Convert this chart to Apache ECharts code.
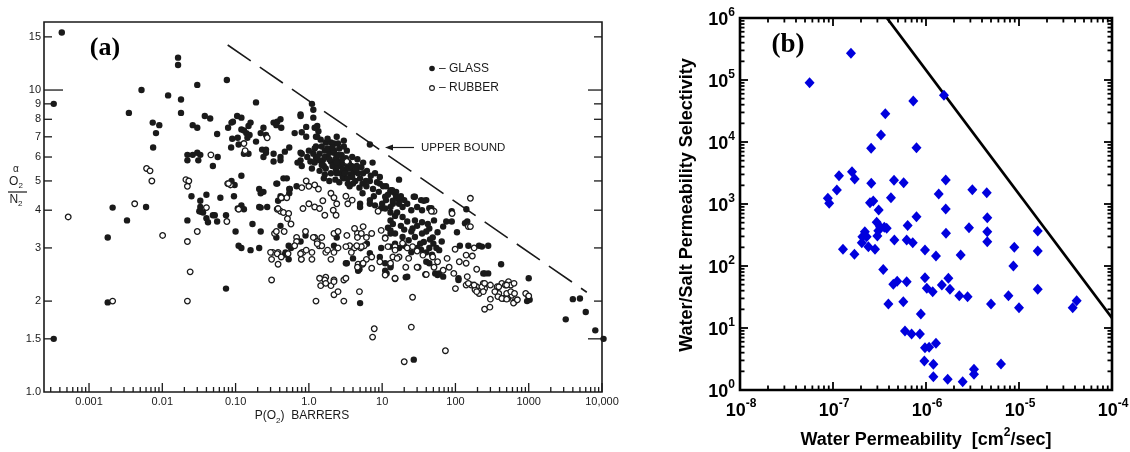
<!DOCTYPE html>
<html><head><meta charset="utf-8">
<script src="https://cdn.jsdelivr.net/npm/echarts@6/dist/echarts.min.js"></script>
<style>html,body{margin:0;padding:0;background:#fff}#c{width:1130px;height:452px}</style>
</head><body><div id="c"></div>
<script>
// ===== Panel (a): O2/N2 selectivity vs P(O2) [barrers] =====
const glass = [
[0.000425,15.5],[0.00033,9.0],[0.00033,1.5],[0.0018,3.25],[0.0018,1.98],[0.0021,4.08],[0.0033,3.7],[0.0035,8.4],[0.0052,10],[0.006,4.1],
[0.0074,7.8],[0.0091,7.65],[0.0082,7.2],[0.0075,6.45],[0.012,9.6],[0.0164,12.8],[0.0164,12.1],[0.018,9.3],[0.018,8.4],[0.030,10.4],
[0.076,10.8],[0.19,9.1],[0.038,8.2],[0.045,8.05],[0.026,7.65],[0.030,7.5],[0.056,7.15],[0.079,7.5],[0.088,7.8],[0.105,8.2],
[0.12,8.1],[0.087,6.45],[0.09,6.9],[0.107,6.95],[0.11,6.6],[0.12,7.4],[0.14,7.2],[0.15,7.6],[0.155,7.1],[0.145,6.95],
[0.19,6.75],[0.22,7.2],[0.26,7.1],[0.24,7.5],[0.33,7.8],[0.37,7.85],[0.41,8.0],[0.42,7.5],[0.23,6.35],[0.26,6.2],
[0.022,6.1],[0.026,6.1],[0.030,6.2],[0.033,6.1],[0.031,5.85],[0.022,5.85],[0.057,6.0],[0.049,5.6],[0.12,5.2],[0.088,5.0],
[0.097,4.85],[0.025,4.45],[0.033,4.3],[0.040,4.5],[0.062,4.4],[0.095,4.45],[0.21,4.7],[0.24,4.6],[0.22,4.55],[0.36,4.9],
[0.45,5.1],[0.50,5.1],[0.54,4.7],[0.032,3.97],[0.036,3.93],[0.049,3.85],[0.074,3.85],[0.12,4.15],[0.22,4.08],[0.27,4.1],
[0.022,3.7],[0.034,3.95],[0.040,3.76],[0.056,3.67],[0.107,4.05],[0.13,4.03],[0.13,6.15],[0.15,6.15],[0.074,2.2],[0.1,3.4],
[0.11,3.05],[0.17,3.6],[0.22,3.4],[0.21,3.0],[0.41,3.55],[0.47,2.85],[0.53,3.05],[0.57,3.0],[0.80,2.9],[0.79,2.75],
[0.12,3.0],[0.16,2.95],[0.36,3.25],[0.48,2.9],[0.53,2.75],[0.77,3.15],[0.9,3.3],[1.4,3.05],[2.2,3.05],[2.4,3.25],
[3.2,2.67],[4.0,2.77],[4.7,2.52],[6.2,3.1],[6.8,2.88],[9.7,3.0],[9.3,2.8],[11,2.52],[3.3,2.67],[4.9,2.55],
[11.5,2.47],[13,2.63],[21,2.4],[53,2.47],[110,2.35],[150,3.05],[210,3.05],[280,3.05],[420,2.65],[240,2.47],
[280,2.47],[1000,2.38],[5.0,1.97],[27,1.28],[4000,2.03],[5000,2.04],[6000,1.84],[3200,1.74],[8100,1.6],[10500,1.5],
[990,2.07],[1030,2.02],[950,2.0],
[1.1,9.0],[1.15,8.6],[1.15,8.1],[0.77,8.3],[6.8,6.6],[7.4,5.75],[0.64,7.2],[0.8,7.25],[0.92,7.0],[1.3,7.6],
[1.35,7.3],[1.25,7.0],[1.45,6.85],[1.7,6.7],[2.0,6.7],[2.2,6.65],[1.65,6.3],[1.4,6.15],[1.25,5.95],[1.2,5.75],
[1.55,5.85],[1.8,6.0],[2.0,5.8],[2.15,5.6],[2.35,5.45],[2.7,5.3],[2.9,5.15],[2.7,5.6],[3.2,5.45],[3.7,5.25],
[4.1,5.35],[4.3,5.0],[5.0,5.1],[1.7,5.5],[2.0,5.3],[1.4,5.4],[1.65,5.25],[1.05,5.8],[0.95,6.0],[0.8,6.15],
[0.77,5.85],[0.7,5.75],[0.8,5.6],[2.2,6.2],[3.2,5.95],[3.5,5.75],[0.36,7.65],[0.16,7.8],[0.13,7.35],[0.092,7.85],
[0.54,6.45],[0.47,6.25],[0.41,6.0],[0.33,6.15],[0.26,6.35],[0.24,6.0],[0.33,5.8],[0.41,5.85],[0.77,6.2],[0.37,4.9],
[0.68,4.8],[0.55,4.7],[0.41,4.45],[0.38,4.3],[0.54,4.55],[0.21,4.1],[0.052,3.85],[0.042,3.65],[0.033,4.1],[5.4,4.9],
[6.8,5.0],[9.3,4.9],[11.3,4.8],[13,4.66],[15,4.55],[5.4,4.55],[7.7,4.45],[11.3,4.32],[14,4.2],[9.7,4.06],
[13,3.93],[15,3.83],[6.8,4.2],[5.0,4.2],[13,3.35],[11,3.25],[15,3.1],[13,3.03],[0.77,8.2],[0.92,7.55],
[1.2,7.5],[1.3,7.0],[1.25,6.5],[1.15,6.15],[1.4,5.85],[1.65,6.0],[1.9,6.2],[2.2,6.3],[2.5,6.65],[2.1,5.6],
[2.5,5.6],[2.9,5.45],[3.4,5.55],[3.9,5.15],[4.7,5.3],[3.4,4.9],[4.9,4.75],[6.1,4.8],[9.3,5.15],[10.3,4.8],
[13,4.6],[15.5,4.43],[20,4.32],[28,4.43],[40,4.32],[47,4.06],[19,4.1],[13,4.1],[10,4.2],[6.8,4.32],
[5.0,4.1],[17,5.05],[13.7,4.66],[15.5,4.6],[17,4.32],[27,4.43],[34,4.32],[37,4.3],[44,4.06],[89,3.97],
[141,4.03],[135,3.62],[105,3.38],[89,3.67],[75,3.67],[68,3.53],[51,3.7],[44,3.48],[57,3.38],[49,3.25],
[115,3.05],[230,3.03],[250,2.47],[110,2.38],[57,2.44],[60,2.47],[68,2.41],[22,2.41],[13,3.43],[15,3.35],
[19,3.26],[23,3.18],[28,3.26],[33,3.1],[37,3.14],[44,3.0],[34,2.96],[40,2.7],[44,2.67],[11,2.67],
[13,2.59],[11,4.43],[14,4.3],[17,4.2],[16,3.93],[13,3.7],[19,3.8],[22,3.67],[26,3.48],[145,3.67],
[12,3.5],[14,3.6],[18,3.55],[20,3.45],[25,3.4],[30,3.55],[35,3.35],[40,3.4],[45,3.2],[50,3.1],
[55,3.0],[30,3.0],[25,2.9],[20,3.05],[17,3.0],[40,2.9],[48,2.85],[60,2.95],[65,3.15],[35,3.65],
[42,3.6],[28,3.7],[1.5,6.5],[1.8,6.4],[2.4,6.0],[2.6,5.8],[3.0,5.7],[1.9,5.9],[2.3,5.9],[2.8,6.1],
[1.6,5.6],[2.4,5.3],[3.0,5.1],[3.6,5.5],[4.5,5.6],[5.5,5.3],[6.0,5.0],[1.2,6.4],[1.0,6.3],[2.6,6.4],
[3.1,5.3],[4.0,4.9],
[1.6,5.1],[1.9,5.0],[2.3,5.05],[2.6,4.95],[3.4,5.1],[3.8,5.6],[4.4,5.45],[5.2,5.55],[6.2,5.4],[7.0,5.2],
[8.0,5.3],[8.5,4.95],[2.9,5.9],[3.3,6.3],[3.9,6.0],[4.6,5.9],[5.5,5.75],[2.1,6.45],[1.3,6.0],[1.1,5.5],
[1.5,5.65],[2.4,5.75],[3.6,4.8],[7.5,4.7],[9.0,4.6],[12,4.5],[18,4.45],[22,4.2],[25,4.0],[30,4.1],
[35,4.0],[11,4.05],[8.0,4.15],[2.5,6.1],[3.0,6.5],[1.8,6.9],[2.4,7.0],[3.0,6.8]
];
const rubber = [
[0.00052,3.8],[0.0021,2.0],[0.0042,4.2],[0.0061,5.5],[0.0068,5.4],[0.0072,5.0],[0.0101,3.3],[0.022,3.15],[0.024,2.5],[0.022,2.0],
[0.030,3.4],[0.046,6.1],[0.13,6.65],[0.135,6.3],[0.27,6.95],[0.021,5.05],[0.023,5.0],[0.022,4.8],[0.078,4.9],[0.085,4.85],
[0.04,4.08],[0.11,4.03],[0.076,3.67],[0.43,4.4],[0.5,4.4],[0.37,4.03],[0.41,3.97],[0.45,3.93],[0.31,2.35],[0.34,3.35],
[0.38,2.9],[0.32,2.9],[0.38,2.65],[0.46,3.4],[0.57,3.6],[0.68,3.25],[0.68,3.15],[0.79,2.75],[0.83,2.9],[0.9,3.4],
[1.1,2.9],[1.2,3.25],[1.38,3.05],[1.5,3.05],[1.5,3.25],[1.7,2.9],[1.25,2.0],[1.45,2.25],[1.7,2.4],[1.15,3.25],
[1.3,3.15],[2.0,2.75],[2.2,2.9],[2.5,3.0],[2.2,3.35],[2.5,3.4],[1.65,2.35],[2.0,2.25],[2.2,2.35],[3.0,2.35],
[2.2,2.1],[2.5,2.15],[3.0,2.0],[3.3,3.3],[3.6,3.05],[4.2,3.0],[5.1,3.0],[5.7,3.05],[4.6,3.35],[5.2,3.35],
[4.7,2.65],[5.4,2.65],[6.1,2.75],[4.9,2.15],[7.8,1.62],[7.4,1.52],[25,1.64],[20,1.26],[73,1.37],[26,2.06],
[51,3.97],[90,3.9],[150,3.53],[99,2.97],[140,2.84],[180,3.0],[170,2.82],[195,2.55],[140,2.67],[113,2.7],
[145,2.41],[82,2.59],[95,2.47],[68,2.53],[100,2.2],[140,2.26],[165,2.26],[195,2.23],[240,2.29],[250,2.2],
[210,2.12],[185,2.18],[250,1.88],[295,1.91],[15,2.37],[31,2.59],[39,2.45],[57,2.7],[77,2.77],[370,2.23],
[430,2.29],[480,2.26],[530,2.32],[570,2.26],[630,2.29],[390,2.12],[460,2.04],[520,2.04],[590,2.09],[640,1.99],
[910,2.12],[500,2.12],[160,4.38],[160,3.53],[15,3.03],[19,3.11],[22,3.0],[26,3.03],[30,2.93],[36,2.84],
[17,2.8],[23,2.77],[14,2.8],[21,2.59],[30,2.59],[49,2.8],[51,2.59],[40,2.45],[0.08,4.9],[0.42,4.4],
[0.8,4.75],[0.92,5.0],[1.0,4.8],[1.2,4.85],[1.35,4.7],[0.83,4.05],[1.0,4.2],[1.2,4.1],[1.4,4.05],[0.38,4.05],
[0.53,3.9],[0.36,3.4],[0.51,3.75],[2.0,4.55],[2.2,4.4],[2.4,4.2],[2.15,4.0],[2.35,3.85],[1.65,3.85],[1.55,4.3],
[3.2,4.45],[3.4,4.2],[3.9,4.32],[1.3,3.1],[0.64,3.05],[0.77,2.87],[0.92,2.95],[1.1,2.75],[1.8,2.95],[4.2,3.48],
[4.6,3.25],[5.5,3.53],[6.1,3.25],[7.2,3.35],[9.7,3.43],[11,3.23],[12,3.03],[15,2.95],[16,2.77],[13,2.67],
[9.3,2.7],[7.2,2.8],[5.2,3.03],[4.5,3.05],[3.8,2.9],[3.2,3.03],[0.3,2.9],[0.31,2.75],[0.37,2.87],[0.42,2.8],
[0.52,2.87],[1.4,2.38],[1.7,2.29],[2.2,2.32],[3.2,2.38],[15,2.38],[11,2.44],[7.2,2.57],[4.6,2.59],[5.5,2.67],
[3.3,5.8],[47,3.97],[8.8,3.97],[300,2.03],[345,2.15],[390,2.23],[500,2.26],[570,2.15],[640,2.12],[380,2.07],
[430,2.04],[500,2.03],[620,1.97],[700,2.02],[1000,2.08],[180,2.26],[230,2.23],[150,2.29],[195,2.15],[240,2.15],
[250,2.29],[300,2.26]
];
const upperBoundP = [0.078, 6200];
const upperBoundAlpha = [14.1, 2.14];
const aXTicks = [0.001, 0.01, 0.1, 1, 10, 100, 1000, 10000];
const aXTickLabels = ['0.001', '0.01', '0.10', '1.0', '10', '100', '1000', '10,000'];
const aYTicks = [1, 1.5, 2, 3, 4, 5, 6, 7, 8, 9, 10, 15];
const aYTickLabels = ['1.0', '1.5', '2', '3', '4', '5', '6', '7', '8', '9', '10', '15'];

// ===== Panel (b): water/salt selectivity vs water permeability =====
const waterPerm = [
5.6e-8,1.56e-7,7.3e-7,1.56e-6,3.65e-7,3.28e-7,2.57e-7,7.9e-7,1.16e-7,1.6e-7,
1.71e-7,1.1e-7,8.8e-8,9.1e-8,2.58e-7,4.53e-7,5.75e-7,4.2e-7,2.5e-7,2.71e-7,
3.1e-7,7.9e-7,1.63e-6,1.37e-6,1.63e-6,3.15e-6,4.5e-6,4.56e-6,6.35e-7,2.95e-7,
3.2e-7,3.56e-7,3.07e-7,2.2e-7,2.3e-7,2.04e-7,2.4e-7,4.57e-7,6.2e-7,7.2e-7,
3.0e-7,1.28e-7,1.7e-7,2.07e-7,2.83e-7,3.78e-7,9.75e-7,1.28e-6,1.64e-6,2.36e-6,
2.9e-6,4.56e-6,4.56e-6,8.9e-6,1.59e-5,1.59e-5,3.47e-7,4.45e-7,4.9e-7,6.2e-7,
5.7e-7,3.94e-7,9.75e-7,1.02e-6,1.18e-6,1.48e-6,1.74e-6,1.81e-6,2.28e-6,2.8e-6,
5.0e-6,7.7e-6,8.7e-6,1.0e-5,1.59e-5,3.78e-5,4.17e-5,8.8e-7,5.94e-7,7.0e-7,
8.6e-7,9.75e-7,1.08e-6,1.28e-6,9.6e-7,1.2e-6,3.28e-6,3.28e-6,6.4e-6,1.2e-6,
1.71e-6,2.48e-6
];
const selectivity = [
9.0e4,2.7e5,4.6e4,5.7e4,2.86e4,1.3e4,7.9e3,8.1e3,2.86e3,3.3e3,
2.53e3,1.68e3,1.24e3,1.03e3,2.16e3,2.41e3,2.2e3,1.26e3,1.05e3,1.12e3,
800,620,2.44e3,1.45e3,830,1.7e3,1.52e3,600,450,507,
430,420,370,357,297,238,205,263,263,238,
305,186,154,297,186,405,181,145,337,150,
415,357,247,200,175,367,88,50.7,57,55.8,
26.6,24.4,64.8,43.7,38.5,49.4,63.3,42,33.2,32,
24.4,33.2,100,21.3,42,21.3,27.6,16.8,8.95,8.0,
8.0,4.8,4.9,5.7,2.94,2.6,2.16,1.79,2.63,1.64,
1.49,1.36
];
const limitPerm = [3.8e-7, 1e-4];
const limitSel = [1e6, 14.5];
const bXTicks = [1e-8, 1e-7, 1e-6, 1e-5, 1e-4];
const bXTickExp = ['-8', '-7', '-6', '-5', '-4'];
const bYTicks = [1, 10, 100, 1e3, 1e4, 1e5, 1e6];
const bYTickExp = ['0', '1', '2', '3', '4', '5', '6'];

// ===== chart =====
const AX = {xmin: 0.000243, xmax: 10000, ymin: 1, ymax: 16.8};
const BX = {xmin: 1e-8, xmax: 1e-4, ymin: 1, ymax: 1e6};
const INK = '#1a1a1a';
const SANS = '"Liberation Sans", Arial, sans-serif';

function minors(k0, k1, lo, hi) {
  const out = [];
  for (let k = k0; k <= k1; k++) for (let n = 2; n <= 9; n++) {
    const v = n * Math.pow(10, k);
    if (v > lo && v < hi) out.push(v);
  }
  return out;
}
function ln(x1, y1, x2, y2, w, c) {
  return {type: 'line', shape: {x1, y1, x2, y2}, style: {stroke: c, lineWidth: w}};
}

// panel (a) tick items
const aItems = [];
aXTicks.forEach((v, i) => aItems.push({k: 'x', v: [v, AX.ymin], len: 9, label: aXTickLabels[i]}));
minors(-4, 3, AX.xmin, AX.xmax).forEach(v => aItems.push({k: 'x', v: [v, AX.ymin], len: 5}));
aYTicks.forEach((v, i) => aItems.push({k: 'y', v: [AX.xmin, v], tick: v !== 1,
  lenL: v === 10 ? 19 : 8, lenR: (v === 10 || v === 1.5) ? 14 : 8, label: aYTickLabels[i]}));

// panel (b) tick items
const bItems = [];
bXTicks.forEach((v, i) => bItems.push({k: 'x', v: [v, BX.ymin], len: 8, major: true, exp: bXTickExp[i]}));
minors(-8, -5, BX.xmin, BX.xmax).forEach(v => bItems.push({k: 'x', v: [v, BX.ymin], len: 4.5}));
bYTicks.forEach((v, i) => bItems.push({k: 'y', v: [BX.xmin, v], len: 8, major: true, exp: bYTickExp[i]}));
minors(0, 5, BX.ymin, BX.ymax).forEach(v => bItems.push({k: 'y', v: [BX.xmin, v], len: 4.5}));

const bRich = {
  b: {fontSize: 18, fontWeight: 'bold', fontFamily: SANS, fill: '#000', lineHeight: 22, verticalAlign: 'bottom'},
  s: {fontSize: 12, fontWeight: 'bold', fontFamily: SANS, fill: '#000', lineHeight: 10, verticalAlign: 'top'}
};

const chart = echarts.init(document.getElementById('c'), null, {renderer: 'canvas'});
chart.setOption({
  animation: false,
  backgroundColor: '#fff',
  grid: [
    {left: 44, top: 22, width: 558, height: 370, show: true, borderColor: INK, borderWidth: 1.6, backgroundColor: 'transparent', outerBoundsMode: 'none', containLabel: false},
    {left: 740, top: 18, width: 372, height: 372, show: true, borderColor: '#000', borderWidth: 2.6, backgroundColor: 'transparent', outerBoundsMode: 'none', containLabel: false}
  ],
  xAxis: [
    {gridIndex: 0, type: 'log', logBase: 10, min: AX.xmin, max: AX.xmax,
      axisLine: {show: false}, axisTick: {show: false}, axisLabel: {show: false}, splitLine: {show: false}, minorTick: {show: false}},
    {gridIndex: 1, type: 'log', logBase: 10, min: BX.xmin, max: BX.xmax,
      axisLine: {show: false}, axisTick: {show: false}, axisLabel: {show: false}, splitLine: {show: false}, minorTick: {show: false}}
  ],
  yAxis: [
    {gridIndex: 0, type: 'log', logBase: 10, min: AX.ymin, max: AX.ymax,
      axisLine: {show: false}, axisTick: {show: false}, axisLabel: {show: false}, splitLine: {show: false}, minorTick: {show: false}},
    {gridIndex: 1, type: 'log', logBase: 10, min: BX.ymin, max: BX.ymax,
      axisLine: {show: false}, axisTick: {show: false}, axisLabel: {show: false}, splitLine: {show: false}, minorTick: {show: false}}
  ],
  series: [
    {
      type: 'custom', xAxisIndex: 0, yAxisIndex: 0, clip: false, silent: true, z: 5,
      data: aItems.map(it => it.v), encode: {x: 0, y: 1},
      renderItem: (params, api) => {
        const it = aItems[params.dataIndex];
        const ch = [];
        if (it.k === 'x') {
          const p = api.coord([it.v[0], AX.ymin]);
          ch.push(ln(p[0], p[1], p[0], p[1] - it.len, 1.3, INK));
          if (it.label) ch.push({type: 'text', style: {text: it.label, x: p[0], y: p[1] + 10,
            align: 'center', verticalAlign: 'middle', fontSize: 11, fontFamily: SANS, fill: INK}});
        } else {
          const pl = api.coord([AX.xmin, it.v[1]]);
          const pr = api.coord([AX.xmax, it.v[1]]);
          if (it.tick) {
            ch.push(ln(pl[0], pl[1], pl[0] + it.lenL, pl[1], 1.3, INK));
            ch.push(ln(pr[0], pr[1], pr[0] - it.lenR, pr[1], 1.3, INK));
          }
          ch.push({type: 'text', style: {text: it.label, x: pl[0] - 3, y: pl[1],
            align: 'right', verticalAlign: 'middle', fontSize: 11, fontFamily: SANS, fill: INK}});
        }
        return {type: 'group', children: ch};
      }
    },
    {
      type: 'line', xAxisIndex: 0, yAxisIndex: 0, silent: true, symbol: 'none', z: 3,
      data: upperBoundP.map((p, i) => [p, upperBoundAlpha[i]]),
      lineStyle: {color: INK, width: 1.6, type: [28, 11]}
    },
    {
      type: 'scatter', xAxisIndex: 0, yAxisIndex: 0, silent: true, clip: false, z: 4,
      data: glass, symbol: 'circle', symbolSize: 6.4,
      itemStyle: {color: INK, opacity: 1}
    },
    {
      type: 'scatter', xAxisIndex: 0, yAxisIndex: 0, silent: true, clip: false, z: 4,
      data: rubber, symbol: 'circle', symbolSize: 5.6,
      itemStyle: {color: '#fff', borderColor: INK, borderWidth: 1.3, opacity: 1}
    },
    {
      type: 'custom', xAxisIndex: 1, yAxisIndex: 1, clip: false, silent: true, z: 5,
      data: bItems.map(it => it.v), encode: {x: 0, y: 1},
      renderItem: (params, api) => {
        const it = bItems[params.dataIndex];
        const ch = [];
        if (it.k === 'x') {
          const pb = api.coord([it.v[0], BX.ymin]);
          const pt = api.coord([it.v[0], BX.ymax]);
          if (it.v[0] > BX.xmin && it.v[0] < BX.xmax) {
            ch.push(ln(pb[0], pb[1], pb[0], pb[1] - it.len, 1.8, '#000'));
            ch.push(ln(pt[0], pt[1], pt[0], pt[1] + it.len, 1.8, '#000'));
          }
          if (it.major) ch.push({type: 'text', style: {text: '{b|10}{s|' + it.exp + '}', rich: bRich,
            x: pb[0] + 1, y: pb[1] + 19, align: 'center', verticalAlign: 'middle'}});
        } else {
          const pl = api.coord([BX.xmin, it.v[1]]);
          const pr = api.coord([BX.xmax, it.v[1]]);
          if (it.v[1] > BX.ymin && it.v[1] < BX.ymax) {
            ch.push(ln(pl[0], pl[1], pl[0] + it.len, pl[1], 1.8, '#000'));
            ch.push(ln(pr[0], pr[1], pr[0] - it.len, pr[1], 1.8, '#000'));
          }
          if (it.major) ch.push({type: 'text', style: {text: '{b|10}{s|' + it.exp + '}', rich: bRich,
            x: pl[0] - 5, y: pl[1], align: 'right', verticalAlign: 'middle'}});
        }
        return {type: 'group', children: ch};
      }
    },
    {
      type: 'line', xAxisIndex: 1, yAxisIndex: 1, silent: true, symbol: 'none', z: 3,
      data: limitPerm.map((p, i) => [p, limitSel[i]]),
      lineStyle: {color: '#000', width: 2.8, type: 'solid'}
    },
    {
      type: 'scatter', xAxisIndex: 1, yAxisIndex: 1, silent: true, z: 4,
      data: waterPerm.map((p, i) => [p, selectivity[i]]),
      symbol: 'diamond', symbolSize: [10, 11],
      itemStyle: {color: '#0000dd', opacity: 1}
    }
  ],
  graphic: [
    {type: 'text', x: 105, y: 48, style: {text: '(a)', font: 'bold 26px "Liberation Serif", serif', fill: '#000', align: 'center', verticalAlign: 'middle'}},
    {type: 'text', x: 788, y: 45, style: {text: '(b)', font: 'bold 27px "Liberation Serif", serif', fill: '#000', align: 'center', verticalAlign: 'middle'}},
    // legend of (a)
    {type: 'circle', shape: {cx: 432, cy: 68.5, r: 2.8}, style: {fill: INK}},
    {type: 'text', x: 439, y: 68.5, style: {text: '– GLASS', fontSize: 12, fontFamily: SANS, fill: INK, align: 'left', verticalAlign: 'middle'}},
    {type: 'circle', shape: {cx: 432, cy: 88, r: 2.4}, style: {fill: '#fff', stroke: INK, lineWidth: 1.1}},
    {type: 'text', x: 439, y: 88, style: {text: '– RUBBER', fontSize: 12, fontFamily: SANS, fill: INK, align: 'left', verticalAlign: 'middle'}},
    // upper bound annotation
    {type: 'line', shape: {x1: 388, y1: 147.5, x2: 414, y2: 147.5}, style: {stroke: INK, lineWidth: 1.2}},
    {type: 'polygon', shape: {points: [[385, 147.5], [393, 144.5], [393, 150.5]]}, style: {fill: INK}},
    {type: 'text', x: 421, y: 148, style: {text: 'UPPER BOUND', fontSize: 11.5, fontFamily: SANS, fill: INK, align: 'left', verticalAlign: 'middle'}},
    // y title of (a)
    {type: 'text', x: 16, y: 169, style: {text: 'α', fontSize: 10, fontFamily: SANS, fill: INK, align: 'center', verticalAlign: 'middle'}},
    {type: 'text', x: 16, y: 183, style: {text: '{a|O}{s|2}', align: 'center', verticalAlign: 'middle',
      rich: {a: {fontSize: 12, fontFamily: SANS, fill: INK, lineHeight: 14, verticalAlign: 'top'}, s: {fontSize: 8, fontFamily: SANS, fill: INK, lineHeight: 12, verticalAlign: 'bottom'}}}},
    {type: 'line', shape: {x1: 8, y1: 192, x2: 27, y2: 192}, style: {stroke: INK, lineWidth: 1.2}},
    {type: 'text', x: 16, y: 201, style: {text: '{a|N}{s|2}', align: 'center', verticalAlign: 'middle',
      rich: {a: {fontSize: 12, fontFamily: SANS, fill: INK, lineHeight: 14, verticalAlign: 'top'}, s: {fontSize: 8, fontFamily: SANS, fill: INK, lineHeight: 12, verticalAlign: 'bottom'}}}},
    // x title of (a)
    {type: 'text', x: 302, y: 417, style: {text: '{a|P(O}{s|2}{a|)  BARRERS}', align: 'center', verticalAlign: 'middle',
      rich: {a: {fontSize: 12, fontFamily: SANS, fill: INK, lineHeight: 15, verticalAlign: 'top'}, s: {fontSize: 8, fontFamily: SANS, fill: INK, lineHeight: 11, verticalAlign: 'bottom'}}}},
    // titles of (b)
    {type: 'text', x: 687, y: 205, rotation: Math.PI / 2, style: {text: 'Water/Salt Permeability Selectivity',
      fontSize: 18, fontWeight: 'bold', fontFamily: SANS, fill: '#000', align: 'center', verticalAlign: 'middle'}},
    {type: 'text', x: 926, y: 438, style: {text: '{t|Water Permeability  [cm}{s|2}{t|/sec]}', align: 'center', verticalAlign: 'middle',
      rich: {t: {fontSize: 18, fontWeight: 'bold', fontFamily: SANS, fill: '#000', lineHeight: 22, verticalAlign: 'bottom'},
             s: {fontSize: 12, fontWeight: 'bold', fontFamily: SANS, fill: '#000', lineHeight: 10, verticalAlign: 'top'}}}}
  ]
});
</script>
</body></html>
